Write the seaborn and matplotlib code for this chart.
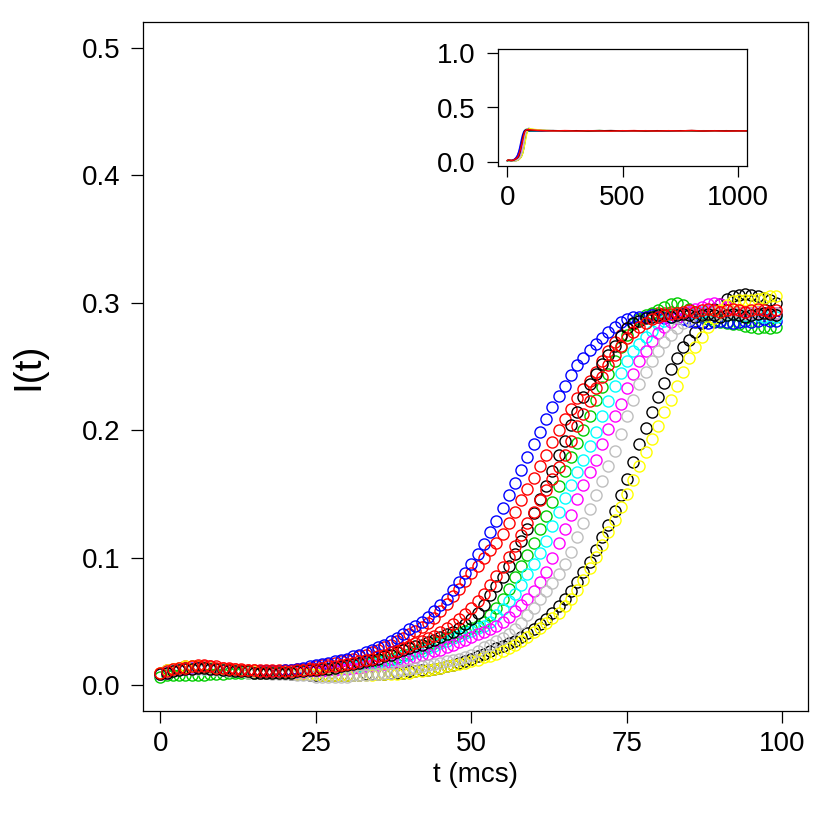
import matplotlib
matplotlib.use("Agg")
import matplotlib.pyplot as plt
import seaborn as sns
import pandas as pd

# time axis: main panel shows the first 100 steps, inset the whole run
t = list(range(100))
t_tail = list(range(100, 1051, 50))

black1 = [0.009, 0.010, 0.011, 0.012, 0.013, 0.013, 0.014, 0.014, 0.013, 0.013, 0.012, 0.012, 0.011, 0.011, 0.011, 0.010, 0.010, 0.010, 0.010, 0.010,
          0.010, 0.010, 0.011, 0.011, 0.012, 0.012, 0.013, 0.013, 0.014, 0.015, 0.016, 0.017, 0.018, 0.019, 0.020, 0.021, 0.023, 0.024, 0.026, 0.028,
          0.029, 0.031, 0.032, 0.034, 0.036, 0.038, 0.040, 0.042, 0.045, 0.048, 0.052, 0.057, 0.063, 0.071, 0.078, 0.085, 0.094, 0.103, 0.113, 0.123,
          0.135, 0.146, 0.156, 0.168, 0.181, 0.192, 0.204, 0.214, 0.226, 0.236, 0.244, 0.252, 0.259, 0.266, 0.274, 0.280, 0.284, 0.286, 0.288, 0.289,
          0.290, 0.290, 0.289, 0.290, 0.291, 0.290, 0.289, 0.290, 0.291, 0.290, 0.289, 0.290, 0.291, 0.290, 0.289, 0.290, 0.291, 0.292, 0.291, 0.290]
red1 = [0.010, 0.012, 0.013, 0.014, 0.015, 0.015, 0.016, 0.016, 0.015, 0.015, 0.014, 0.014, 0.013, 0.013, 0.012, 0.012, 0.012, 0.012, 0.012, 0.012,
        0.012, 0.012, 0.013, 0.013, 0.014, 0.015, 0.016, 0.017, 0.018, 0.019, 0.020, 0.021, 0.023, 0.024, 0.026, 0.028, 0.030, 0.032, 0.035, 0.037,
        0.040, 0.043, 0.046, 0.049, 0.053, 0.058, 0.064, 0.070, 0.076, 0.082, 0.088, 0.094, 0.100, 0.106, 0.112, 0.119, 0.127, 0.136, 0.145, 0.154,
        0.163, 0.172, 0.181, 0.191, 0.200, 0.209, 0.217, 0.225, 0.232, 0.239, 0.246, 0.254, 0.262, 0.269, 0.275, 0.280, 0.284, 0.287, 0.289, 0.291,
        0.292, 0.292, 0.293, 0.292, 0.291, 0.292, 0.293, 0.292, 0.291, 0.292, 0.293, 0.294, 0.293, 0.292, 0.293, 0.292, 0.291, 0.292, 0.293, 0.292]
green = [0.007, 0.008, 0.008, 0.008, 0.008, 0.008, 0.008, 0.008, 0.009, 0.009, 0.009, 0.010, 0.010, 0.010, 0.010, 0.010, 0.010, 0.010, 0.010, 0.010,
         0.010, 0.010, 0.011, 0.011, 0.011, 0.012, 0.012, 0.013, 0.013, 0.014, 0.015, 0.015, 0.016, 0.017, 0.018, 0.019, 0.020, 0.021, 0.022, 0.024,
         0.025, 0.027, 0.029, 0.031, 0.033, 0.035, 0.037, 0.039, 0.041, 0.043, 0.045, 0.047, 0.050, 0.055, 0.061, 0.068, 0.076, 0.085, 0.094, 0.102,
         0.112, 0.123, 0.133, 0.144, 0.156, 0.168, 0.179, 0.190, 0.200, 0.211, 0.224, 0.234, 0.244, 0.254, 0.265, 0.275, 0.283, 0.287, 0.290, 0.292,
         0.294, 0.297, 0.299, 0.300, 0.298, 0.295, 0.292, 0.289, 0.287, 0.286, 0.285, 0.284, 0.283, 0.283, 0.282, 0.281, 0.280, 0.281, 0.280, 0.281]
blue = [0.009, 0.011, 0.012, 0.013, 0.013, 0.014, 0.014, 0.014, 0.014, 0.013, 0.013, 0.012, 0.012, 0.011, 0.011, 0.011, 0.011, 0.011, 0.011, 0.011,
        0.012, 0.012, 0.013, 0.014, 0.015, 0.016, 0.017, 0.018, 0.019, 0.020, 0.021, 0.023, 0.024, 0.026, 0.028, 0.030, 0.032, 0.035, 0.037, 0.040,
        0.044, 0.047, 0.050, 0.054, 0.058, 0.063, 0.068, 0.075, 0.081, 0.088, 0.095, 0.103, 0.111, 0.120, 0.129, 0.139, 0.149, 0.159, 0.169, 0.179,
        0.189, 0.199, 0.209, 0.218, 0.227, 0.235, 0.243, 0.251, 0.257, 0.263, 0.268, 0.272, 0.277, 0.281, 0.285, 0.287, 0.289, 0.289, 0.289, 0.290,
        0.289, 0.288, 0.289, 0.288, 0.287, 0.286, 0.285, 0.285, 0.284, 0.285, 0.286, 0.285, 0.284, 0.285, 0.286, 0.285, 0.286, 0.287, 0.286, 0.286]
cyan = [0.009, 0.011, 0.012, 0.013, 0.013, 0.014, 0.014, 0.013, 0.013, 0.013, 0.012, 0.012, 0.011, 0.011, 0.011, 0.011, 0.010, 0.010, 0.010, 0.010,
        0.010, 0.010, 0.010, 0.011, 0.011, 0.011, 0.012, 0.012, 0.013, 0.013, 0.014, 0.015, 0.015, 0.016, 0.017, 0.018, 0.019, 0.020, 0.021, 0.023,
        0.024, 0.026, 0.027, 0.029, 0.031, 0.033, 0.035, 0.037, 0.039, 0.041, 0.043, 0.045, 0.047, 0.050, 0.055, 0.060, 0.066, 0.072, 0.079, 0.087,
        0.095, 0.104, 0.113, 0.125, 0.136, 0.147, 0.157, 0.167, 0.177, 0.188, 0.199, 0.211, 0.223, 0.235, 0.245, 0.254, 0.262, 0.268, 0.273, 0.278,
        0.283, 0.286, 0.289, 0.291, 0.292, 0.293, 0.292, 0.293, 0.294, 0.293, 0.292, 0.291, 0.292, 0.291, 0.290, 0.291, 0.290, 0.289, 0.290, 0.289]
magenta = [0.009, 0.010, 0.012, 0.013, 0.013, 0.014, 0.014, 0.014, 0.013, 0.013, 0.012, 0.012, 0.012, 0.011, 0.011, 0.011, 0.010, 0.010, 0.010, 0.010,
           0.010, 0.010, 0.010, 0.010, 0.011, 0.011, 0.011, 0.012, 0.012, 0.013, 0.013, 0.014, 0.014, 0.015, 0.016, 0.016, 0.017, 0.018, 0.019, 0.020,
           0.021, 0.022, 0.024, 0.025, 0.027, 0.028, 0.030, 0.032, 0.034, 0.036, 0.038, 0.040, 0.042, 0.044, 0.047, 0.050, 0.054, 0.058, 0.063, 0.068,
           0.074, 0.081, 0.089, 0.100, 0.112, 0.123, 0.134, 0.146, 0.157, 0.167, 0.177, 0.189, 0.201, 0.211, 0.221, 0.233, 0.244, 0.254, 0.262, 0.270,
           0.276, 0.281, 0.285, 0.288, 0.291, 0.293, 0.295, 0.297, 0.299, 0.300, 0.299, 0.297, 0.295, 0.294, 0.293, 0.292, 0.293, 0.292, 0.291, 0.292]
yellow = [0.010, 0.012, 0.013, 0.014, 0.015, 0.015, 0.015, 0.014, 0.014, 0.013, 0.013, 0.012, 0.012, 0.011, 0.011, 0.011, 0.010, 0.010, 0.010, 0.010,
          0.010, 0.010, 0.009, 0.009, 0.009, 0.009, 0.008, 0.008, 0.008, 0.008, 0.008, 0.008, 0.008, 0.008, 0.008, 0.009, 0.009, 0.009, 0.009, 0.010,
          0.010, 0.011, 0.011, 0.012, 0.013, 0.014, 0.015, 0.016, 0.017, 0.018, 0.019, 0.020, 0.022, 0.023, 0.025, 0.027, 0.029, 0.032, 0.035, 0.038,
          0.042, 0.045, 0.049, 0.053, 0.057, 0.062, 0.068, 0.075, 0.083, 0.092, 0.101, 0.110, 0.120, 0.130, 0.140, 0.150, 0.161, 0.172, 0.183, 0.193,
          0.203, 0.214, 0.224, 0.235, 0.246, 0.257, 0.265, 0.273, 0.281, 0.288, 0.294, 0.298, 0.301, 0.302, 0.302, 0.302, 0.303, 0.304, 0.305, 0.305]
gray = [0.009, 0.011, 0.012, 0.013, 0.013, 0.013, 0.013, 0.013, 0.013, 0.012, 0.012, 0.011, 0.011, 0.011, 0.010, 0.010, 0.010, 0.010, 0.009, 0.009,
        0.009, 0.009, 0.008, 0.008, 0.008, 0.007, 0.007, 0.007, 0.007, 0.007, 0.007, 0.008, 0.008, 0.008, 0.009, 0.009, 0.010, 0.010, 0.011, 0.012,
        0.013, 0.014, 0.015, 0.016, 0.017, 0.018, 0.019, 0.020, 0.021, 0.022, 0.024, 0.027, 0.030, 0.032, 0.035, 0.037, 0.040, 0.044, 0.049, 0.055,
        0.061, 0.068, 0.074, 0.080, 0.087, 0.095, 0.105, 0.116, 0.127, 0.138, 0.149, 0.160, 0.172, 0.184, 0.197, 0.211, 0.224, 0.236, 0.246, 0.254,
        0.262, 0.269, 0.275, 0.280, 0.284, 0.287, 0.289, 0.290, 0.291, 0.292, 0.291, 0.292, 0.293, 0.292, 0.291, 0.292, 0.293, 0.292, 0.291, 0.292]
black2 = [0.009, 0.011, 0.012, 0.013, 0.014, 0.014, 0.014, 0.014, 0.013, 0.013, 0.012, 0.012, 0.011, 0.011, 0.011, 0.010, 0.010, 0.010, 0.010, 0.010,
          0.010, 0.009, 0.009, 0.009, 0.008, 0.008, 0.008, 0.008, 0.008, 0.008, 0.008, 0.008, 0.008, 0.009, 0.009, 0.009, 0.009, 0.010, 0.010, 0.010,
          0.011, 0.011, 0.012, 0.012, 0.013, 0.014, 0.015, 0.016, 0.018, 0.019, 0.021, 0.023, 0.025, 0.027, 0.029, 0.031, 0.033, 0.035, 0.038, 0.041,
          0.044, 0.048, 0.052, 0.057, 0.062, 0.068, 0.074, 0.081, 0.089, 0.097, 0.106, 0.116, 0.126, 0.137, 0.149, 0.162, 0.175, 0.189, 0.202, 0.214,
          0.226, 0.237, 0.248, 0.257, 0.265, 0.271, 0.277, 0.284, 0.290, 0.295, 0.299, 0.303, 0.305, 0.306, 0.307, 0.306, 0.305, 0.304, 0.302, 0.300]
red2 = [0.010, 0.011, 0.013, 0.014, 0.014, 0.015, 0.015, 0.015, 0.015, 0.014, 0.014, 0.013, 0.013, 0.012, 0.012, 0.012, 0.011, 0.011, 0.011, 0.011,
        0.011, 0.011, 0.012, 0.012, 0.013, 0.013, 0.014, 0.015, 0.015, 0.016, 0.017, 0.018, 0.019, 0.020, 0.021, 0.023, 0.024, 0.026, 0.027, 0.029,
        0.031, 0.033, 0.035, 0.037, 0.039, 0.042, 0.045, 0.048, 0.052, 0.056, 0.061, 0.066, 0.072, 0.079, 0.086, 0.093, 0.101, 0.109, 0.118, 0.127,
        0.136, 0.145, 0.153, 0.162, 0.171, 0.181, 0.192, 0.203, 0.213, 0.223, 0.233, 0.242, 0.251, 0.259, 0.266, 0.272, 0.277, 0.281, 0.284, 0.287,
        0.289, 0.290, 0.291, 0.292, 0.293, 0.294, 0.293, 0.294, 0.295, 0.294, 0.293, 0.294, 0.295, 0.294, 0.293, 0.294, 0.295, 0.294, 0.293, 0.294]

# long-run plateau (t = 100, 150, ..., 1050), only seen in the inset
black1_tail = [0.288, 0.285, 0.287, 0.284, 0.286, 0.283, 0.285, 0.287, 0.284, 0.286, 0.283, 0.285, 0.284, 0.286, 0.285, 0.283, 0.286, 0.284, 0.285, 0.284]
red1_tail = [0.291, 0.286, 0.284, 0.287, 0.285, 0.283, 0.286, 0.284, 0.285, 0.287, 0.283, 0.285, 0.286, 0.284, 0.282, 0.285, 0.284, 0.286, 0.284, 0.285]
green_tail = [0.282, 0.285, 0.286, 0.283, 0.285, 0.284, 0.287, 0.284, 0.283, 0.285, 0.286, 0.284, 0.285, 0.283, 0.284, 0.286, 0.285, 0.283, 0.284, 0.285]
blue_tail = [0.285, 0.284, 0.286, 0.283, 0.284, 0.286, 0.285, 0.283, 0.285, 0.284, 0.286, 0.285, 0.283, 0.284, 0.286, 0.284, 0.285, 0.284, 0.285, 0.284]
cyan_tail = [0.288, 0.285, 0.284, 0.286, 0.284, 0.285, 0.283, 0.286, 0.284, 0.285, 0.284, 0.283, 0.286, 0.285, 0.284, 0.285, 0.283, 0.285, 0.284, 0.285]
magenta_tail = [0.291, 0.286, 0.285, 0.283, 0.286, 0.284, 0.285, 0.286, 0.283, 0.285, 0.284, 0.286, 0.284, 0.285, 0.283, 0.285, 0.286, 0.284, 0.285, 0.284]
yellow_tail = [0.303, 0.290, 0.285, 0.284, 0.286, 0.283, 0.285, 0.284, 0.286, 0.285, 0.283, 0.284, 0.286, 0.285, 0.284, 0.283, 0.285, 0.286, 0.284, 0.285]
gray_tail = [0.291, 0.287, 0.285, 0.284, 0.285, 0.286, 0.283, 0.285, 0.284, 0.286, 0.285, 0.284, 0.283, 0.285, 0.286, 0.284, 0.285, 0.283, 0.285, 0.284]
black2_tail = [0.298, 0.289, 0.286, 0.284, 0.283, 0.285, 0.287, 0.284, 0.286, 0.285, 0.283, 0.286, 0.284, 0.285, 0.287, 0.285, 0.284, 0.286, 0.285, 0.284]
red2_tail = [0.293, 0.287, 0.284, 0.286, 0.283, 0.285, 0.284, 0.282, 0.286, 0.284, 0.285, 0.283, 0.286, 0.284, 0.288, 0.283, 0.285, 0.282, 0.284, 0.285]

# drawing order follows the R palette columns: black, red, green3, blue, cyan, magenta, yellow, gray, black, red
runs = ["black2", "red1", "green", "blue", "cyan", "magenta", "yellow", "gray", "black1", "red2"]
main_vals = [black2, red1, green, blue, cyan, magenta, yellow, gray, black1, red2]
tail_vals = [black2_tail, red1_tail, green_tail, blue_tail, cyan_tail, magenta_tail,
             yellow_tail, gray_tail, black1_tail, red2_tail]
palette = {"black1": "#000000", "red1": "#FF0000", "green": "#00CD00", "blue": "#0000FF",
           "cyan": "#00FFFF", "magenta": "#FF00FF", "yellow": "#FFFF00", "gray": "#BEBEBE",
           "black2": "#000000", "red2": "#FF0000"}

df = pd.DataFrame({
    "t": t * len(runs),
    "I": [v for vals in main_vals for v in vals],
    "run": [r for r in runs for _ in t],
})
df_long = pd.concat([
    df,
    pd.DataFrame({
        "t": t_tail * len(runs),
        "I": [v for vals in tail_vals for v in vals],
        "run": [r for r in runs for _ in t_tail],
    }),
], ignore_index=True)

sns.set_theme(style="ticks")
plt.rcParams["font.family"] = ["Liberation Sans", "DejaVu Sans"]
plt.rcParams["text.color"] = "black"
plt.rcParams["axes.labelcolor"] = "black"
plt.rcParams["axes.edgecolor"] = "black"
plt.rcParams["axes.linewidth"] = 0.9
plt.rcParams["xtick.color"] = "black"
plt.rcParams["ytick.color"] = "black"
plt.rcParams["xtick.major.width"] = 0.9
plt.rcParams["ytick.major.width"] = 0.9
plt.rcParams["xtick.major.size"] = 8.5
plt.rcParams["ytick.major.size"] = 8.5

fig = plt.figure(figsize=(8.3, 8.3), dpi=100)
ax = fig.add_axes([143 / 830, 119 / 830, 665 / 830, 689 / 830])

sns.lineplot(data=df, x="t", y="I", hue="run", hue_order=runs, palette=palette,
             estimator=None, sort=False, legend=False, ax=ax,
             marker="o", markersize=8, markerfacecolor="none", markeredgecolor="auto",
             markeredgewidth=1.0, linestyle="none")

ax.set_xlim(-2.8, 104.1)
ax.set_ylim(-0.02, 0.52)
ax.set_xticks([0, 25, 50, 75, 100])
ax.set_yticks([0.0, 0.1, 0.2, 0.3, 0.4, 0.5])
ax.set_yticklabels(["0.0", "0.1", "0.2", "0.3", "0.4", "0.5"])
ax.tick_params(labelsize=20, pad=6, colors="black")
ax.tick_params(axis="y", pad=8)
ax.set_xlabel("t (mcs)", fontsize=20, va="center", color="black")
ax.xaxis.set_label_coords(0.5, -0.093)
ax.set_ylabel("I(t)", fontsize=28, ha="center", va="center", color="black")
ax.yaxis.set_label_coords(-0.173, 0.5)

# inset with the full run
axin = fig.add_axes([498 / 830, 664 / 830, 249 / 830, 117 / 830])
sns.lineplot(data=df_long, x="t", y="I", hue="run", hue_order=runs, palette=palette,
             estimator=None, legend=False, ax=axin, linewidth=1.0)
axin.set_xlim(-40, 1040)
axin.set_ylim(-0.04, 1.04)
axin.set_xticks([0, 500, 1000])
axin.set_yticks([0.0, 0.5, 1.0])
axin.set_yticklabels(["0.0", "0.5", "1.0"])
axin.tick_params(labelsize=20, length=8, pad=6, colors="black")
axin.tick_params(axis="y", pad=8)
axin.set_xlabel("")
axin.set_ylabel("")

fig.savefig("out.png", dpi=100, facecolor="white")
